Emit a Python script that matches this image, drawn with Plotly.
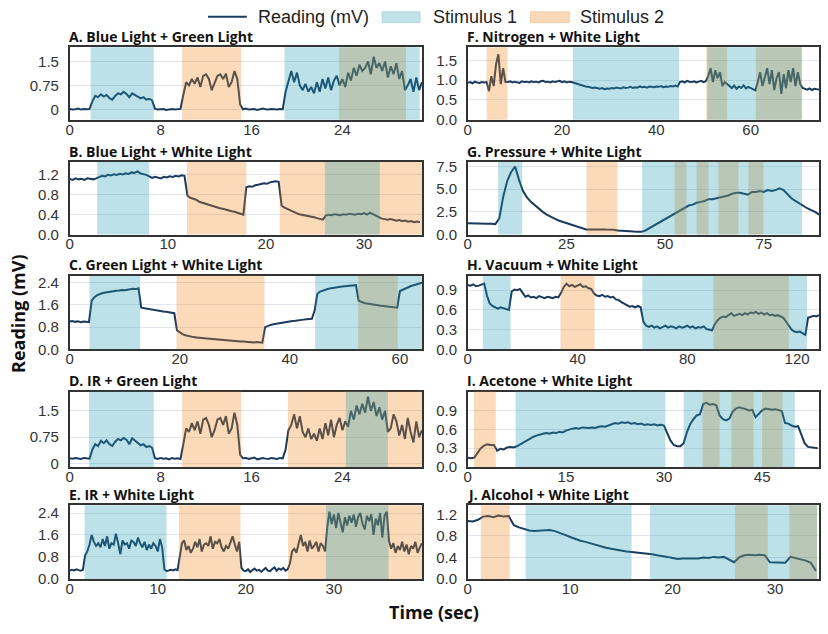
import numpy as np
import plotly.graph_objects as go

# ---------------------------------------------------------------- data
titles = ["A. Blue Light + Green Light", "B. Blue Light + White Light",
          "C. Green Light + White Light", "D. IR + Green Light",
          "E. IR + White Light", "F. Nitrogen + White Light",
          "G. Pressure + White Light", "H. Vacuum + White Light",
          "I. Acetone + White Light", "J. Alcohol + White Light"]

# A. Blue Light + Green Light  (sample step 0.25 s)
a_dt = 0.25
a_reading = [0.01, -0.01, 0.0, 0.02, -0.01, 0.01, 0.0, 0.01,
             0.25, 0.42, 0.38, 0.47, 0.40, 0.45, 0.35, 0.30, 0.42, 0.50, 0.47, 0.55, 0.48, 0.38, 0.50, 0.45,
             0.40, 0.34, 0.38, 0.30, 0.33, 0.28,
             0.02, -0.01, 0.0, 0.01, -0.02, 0.0, 0.01, -0.01, 0.0, 0.01,
             0.45, 0.85, 0.75, 0.95, 0.80, 1.0, 0.70, 1.05, 1.1, 0.95, 0.60, 0.80, 1.05, 1.1, 0.95, 1.12,
             0.70, 0.85, 1.2, 0.95, 0.15,
             0.0, 0.02, -0.01, 0.0, 0.01, -0.02, 0.0, 0.02, 0.0, -0.01, 0.01, 0.0, -0.01, 0.01, 0.0,
             0.55, 0.9, 1.2, 0.85, 1.15, 0.75, 0.6, 0.8, 0.55, 0.7, 0.5, 0.85, 0.55, 0.95, 0.65, 1.0,
             0.6, 0.9, 1.05,
             0.75, 0.95, 0.7, 1.15, 0.9, 1.3, 1.05, 1.4, 1.2, 1.3, 1.5, 1.1, 1.65, 1.3, 1.45, 1.2, 1.5,
             1.0, 1.35, 1.1, 1.45, 0.95, 1.2, 0.6,
             0.75, 0.95, 0.55, 1.0, 0.6, 0.85]
a_stim1 = [[1.85, 7.4], [18.9, 30.8]]
a_stim2 = [[9.9, 15.1], [23.7, 29.6]]
a_xticks, a_xlabels = [0, 8, 16, 24], ["0", "8", "16", "24"]
a_yticks, a_ylabels = [0, 0.75, 1.5], ["0", "0.75", "1.5"]

# B. Blue Light + White Light  (step 0.3 s)
b_dt = 0.3
b_reading = [1.12, 1.10, 1.13, 1.11, 1.12, 1.10, 1.13, 1.12, 1.11, 1.13,
             1.16, 1.18, 1.17, 1.20, 1.19, 1.21, 1.20, 1.22, 1.21, 1.23, 1.22, 1.25, 1.24, 1.27, 1.23,
             1.22, 1.20,
             1.17, 1.14, 1.16, 1.15, 1.13, 1.16, 1.15, 1.17, 1.16, 1.18, 1.17, 1.19, 1.18,
             0.78, 0.74, 0.72, 0.70, 0.66, 0.64, 0.62, 0.61, 0.58, 0.56, 0.55, 0.53, 0.52, 0.50, 0.49,
             0.47, 0.46, 0.44, 0.42, 0.40,
             0.95, 0.97, 0.96, 0.99, 1.00, 1.02, 1.03, 1.02, 1.05, 1.06, 1.07, 1.06,
             0.58, 0.54, 0.51, 0.48, 0.46, 0.43, 0.41, 0.40, 0.38, 0.37, 0.36, 0.35, 0.33, 0.32, 0.30,
             0.38, 0.40, 0.39, 0.41, 0.40, 0.39, 0.41, 0.40, 0.42, 0.41, 0.40, 0.42, 0.41, 0.43, 0.40,
             0.44, 0.41, 0.39, 0.36,
             0.32, 0.31, 0.30, 0.31, 0.29, 0.28, 0.29, 0.27, 0.28, 0.26, 0.27, 0.25, 0.26, 0.25]
b_stim1 = [[2.8, 8.1], [26.0, 31.6]]
b_stim2 = [[11.95, 18.0], [21.4, 35.9]]
b_xticks, b_xlabels = [0, 10, 20, 30], ["0", "10", "20", "30"]
b_yticks, b_ylabels = [0, 0.4, 0.8, 1.2], ["0.0", "0.4", "0.8", "1.2"]

# C. Green Light + White Light  (step 0.5 s)
c_dt = 0.5
c_reading = [1.00, 1.02, 0.99, 1.01, 0.98, 1.00, 0.99, 0.98,
             1.75, 1.88, 1.95, 2.00, 2.03, 2.05, 2.07, 2.08, 2.10, 2.11, 2.12, 2.14, 2.13, 2.15, 2.16,
             2.18, 2.17, 2.20,
             1.50, 1.48, 1.46, 1.45, 1.43, 1.42, 1.40, 1.38, 1.36, 1.35, 1.33, 1.32, 1.30,
             0.68, 0.60, 0.55, 0.51, 0.48, 0.46, 0.44, 0.43, 0.42, 0.40, 0.39, 0.38, 0.37, 0.36, 0.35,
             0.34, 0.33, 0.33, 0.32, 0.31, 0.30, 0.30, 0.29, 0.28, 0.28, 0.27, 0.27, 0.26, 0.25, 0.26,
             0.25, 0.24,
             0.80, 0.85, 0.88, 0.90, 0.92, 0.93, 0.95, 0.97, 0.98, 1.00, 1.02, 1.03, 1.05, 1.06, 1.07,
             1.08, 1.10, 1.10,
             1.40, 2.00, 2.08, 2.12, 2.15, 2.18, 2.20, 2.22, 2.23, 2.25, 2.26, 2.27, 2.28, 2.29, 2.30,
             2.31,
             1.75, 1.70, 1.67, 1.65, 1.63, 1.62, 1.60, 1.58, 1.57, 1.56, 1.55, 1.53, 1.52, 1.50,
             1.50, 2.10, 2.15, 2.20, 2.24, 2.28, 2.31, 2.34, 2.37, 2.40]
c_stim1 = [[3.6, 12.8], [44.6, 64.0]]
c_stim2 = [[19.4, 35.4], [52.4, 59.6]]
c_xticks, c_xlabels = [0, 20, 40, 60], ["0", "20", "40", "60"]
c_yticks, c_ylabels = [0, 0.8, 1.6, 2.4], ["0.0", "0.8", "1.6", "2.4"]

# D. IR + Green Light  (step 0.25 s)
d_dt = 0.25
d_reading = [0.15, 0.14, 0.16, 0.15, 0.13, 0.16, 0.15, 0.14,
             0.40, 0.55, 0.50, 0.65, 0.58, 0.66, 0.55, 0.50, 0.62, 0.70, 0.66, 0.73, 0.68, 0.55, 0.72,
             0.65, 0.60, 0.52, 0.55, 0.47, 0.50, 0.45,
             0.15, 0.13, 0.16, 0.14, 0.15, 0.12, 0.16, 0.14, 0.15, 0.13,
             0.55, 1.0, 0.9, 1.15, 0.95, 1.2, 0.85, 1.25, 1.3, 1.1, 0.75, 0.95, 1.25, 1.3, 1.1, 1.35,
             0.85, 1.0, 1.45, 1.1, 0.25,
             0.15, 0.16, 0.13, 0.15, 0.17, 0.12, 0.15, 0.16, 0.14, 0.13, 0.16, 0.15, 0.13, 0.16, 0.15,
             0.40, 0.95, 1.1, 1.4, 1.0, 1.35, 0.9, 0.75, 1.0, 0.7, 0.85, 0.65, 1.0, 0.7, 1.15, 0.8,
             1.25, 0.75, 1.1, 1.3, 0.95,
             1.2, 1.05, 1.5, 1.25, 1.65, 1.4, 1.7, 1.45, 1.9, 1.5, 1.75, 1.35, 1.6, 1.25, 1.5, 0.9,
             1.0, 1.4, 1.2, 0.8, 1.1, 0.7, 1.3, 0.9, 0.6, 1.2, 0.75, 0.95]
d_stim1 = [[1.7, 7.4], [24.3, 28.0]]
d_stim2 = [[9.9, 15.1], [19.2, 31.0]]
d_xticks, d_xlabels = [0, 8, 16, 24], ["0", "8", "16", "24"]
d_yticks, d_ylabels = [0, 0.75, 1.5], ["0", "0.75", "1.5"]

# E. IR + White Light  (step 0.25 s)
e_dt = 0.25
e_reading = [0.30, 0.33, 0.31, 0.35, 0.32, 0.30, 0.33,
             0.85, 1.0, 1.25, 1.6, 1.35, 1.2, 1.3, 1.15, 1.45, 1.2, 1.55, 1.1, 1.3, 1.25, 1.65, 1.3,
             0.9, 1.4, 1.25, 1.3, 1.1, 1.4, 1.35, 1.2, 1.5, 1.3, 1.15, 1.35, 1.05, 1.25, 1.1, 1.3, 1.2,
             1.0, 1.45, 1.15,
             0.35, 0.28, 0.30, 0.33, 0.31, 0.35, 0.32,
             0.9, 1.3, 1.4, 1.05, 1.2, 0.95, 1.1, 1.35, 1.15, 1.45, 1.0, 1.25, 1.3, 1.2, 1.55, 1.1,
             1.35, 1.3, 1.45, 1.15, 1.0, 1.2, 1.1, 1.35, 1.55, 1.25, 1.0, 1.35,
             0.40, 0.30, 0.28, 0.35, 0.25, 0.32, 0.38, 0.30, 0.33, 0.26, 0.35, 0.40, 0.30, 0.28, 0.36,
             0.42, 0.30, 0.38, 0.33, 0.40, 0.30, 0.35,
             0.55, 1.0, 1.1, 0.95, 1.3, 1.6, 1.2, 1.35, 1.0, 1.4, 1.1, 1.2, 1.35, 1.0, 1.3, 1.2, 1.0,
             1.9, 2.45, 2.0, 2.35, 1.85, 2.4, 2.1, 1.7, 2.25, 1.95, 2.3, 2.05, 2.35, 1.9, 2.25, 2.4,
             2.0, 1.8, 2.3, 2.1, 2.35, 1.6, 2.2, 1.95, 2.4, 1.5, 2.3, 2.45,
             1.4, 1.1, 1.3, 0.95, 1.2, 1.05, 1.35, 1.0, 1.25, 0.9, 1.2, 1.1, 1.35, 0.95, 1.15, 1.3]
e_stim1 = [[1.7, 11.0], [29.1, 36.2]]
e_stim2 = [[12.4, 19.4], [24.8, 40.0]]
e_xticks, e_xlabels = [0, 10, 20, 30], ["0", "10", "20", "30"]
e_yticks, e_ylabels = [0, 0.8, 1.6, 2.4], ["0.0", "0.8", "1.6", "2.4"]

# F. Nitrogen + White Light  (step 0.5 s)
f_dt = 0.5
f_reading = [0.93, 0.95, 0.92, 0.96, 0.94, 0.93, 0.95, 0.94,
             0.95, 0.72, 1.1, 0.85, 1.4, 1.65, 0.9, 1.3, 0.95,
             0.95, 0.97, 0.94, 0.96, 0.95, 0.93, 0.97, 0.95, 0.96, 0.94, 0.97, 0.95, 0.96, 0.94,
             0.97, 0.98, 0.95, 0.96, 0.94, 0.97, 0.95, 0.96, 0.98, 0.95, 0.97, 0.94, 0.96, 0.95,
             0.93, 0.90, 0.88, 0.86, 0.85, 0.84, 0.83, 0.82, 0.80, 0.81, 0.79, 0.78, 0.80, 0.77, 0.79,
             0.78, 0.80, 0.79, 0.81, 0.80, 0.79, 0.82, 0.80, 0.81, 0.83, 0.80, 0.82, 0.81, 0.84, 0.82,
             0.83, 0.81, 0.84, 0.83, 0.82, 0.84, 0.83, 0.85, 0.82, 0.84, 0.83, 0.85, 0.84, 0.86, 0.84,
             0.95, 0.97, 0.94, 0.98, 0.96, 0.95, 0.97, 0.94, 0.96, 0.98, 0.95, 0.97,
             1.1, 1.3, 0.95, 1.25, 1.05, 1.2, 0.85, 0.95, 0.90,
             0.85, 0.80, 0.86, 0.78, 0.84, 0.80, 0.87, 0.79, 0.83, 0.80, 0.76, 0.74,
             0.95, 1.2, 0.85, 1.1, 1.3, 0.9, 1.25, 0.75, 1.05, 1.2, 0.65, 1.15, 0.8, 1.25, 0.95, 1.3,
             0.85, 1.2, 0.9,
             0.80, 0.78, 0.76, 0.79, 0.75, 0.78, 0.77, 0.76]
f_stim1 = [[22.3, 44.8], [50.8, 70.8]]
f_stim2 = [[4.0, 8.4], [50.6, 55.0], [61.1, 70.9]]
f_xticks, f_xlabels = [0, 20, 40, 60], ["0", "20", "40", "60"]
f_yticks, f_ylabels = [0, 0.5, 1.0, 1.5], ["0.0", "0.5", "1.0", "1.5"]

# G. Pressure + White Light  (step 1 s)
g_dt = 1.0
g_reading = [1.25, 1.22, 1.24, 1.20, 1.21, 1.18, 1.19, 1.15,
             1.8, 4.2, 5.9, 6.9, 7.5, 6.0, 4.8, 4.1, 3.6, 3.2, 2.8, 2.5, 2.2, 1.95, 1.75, 1.55, 1.4,
             1.25, 1.1, 0.95, 0.8, 0.65, 0.55,
             0.55, 0.58, 0.56, 0.57, 0.55, 0.56, 0.54,
             0.45, 0.40, 0.38, 0.35, 0.33, 0.32, 0.30,
             0.45, 0.7, 0.95, 1.2, 1.5, 1.75, 2.0, 2.2, 2.5, 2.7, 3.0, 3.2, 3.3, 3.5, 3.6, 3.7, 3.9,
             3.9, 4.0, 4.1, 4.2, 4.3, 4.5, 4.6, 4.6, 4.5, 4.4, 4.7, 4.7, 4.8, 4.7, 4.9, 4.8, 4.9, 5.1,
             4.9, 4.4, 4.0, 3.7, 3.4, 3.1, 2.9, 2.7, 2.5, 2.2]
g_stim1 = [[7.7, 13.8], [44.2, 84.7]]
g_stim2 = [[30.1, 37.9], [52.4, 55.4], [58.0, 61.0], [63.5, 68.6], [71.1, 74.9]]
g_xticks, g_xlabels = [0, 25, 50, 75], ["0", "25", "50", "75"]
g_yticks, g_ylabels = [0, 2.5, 5.0, 7.5], ["0.0", "2.5", "5.0", "7.5"]

# H. Vacuum + White Light  (step 1 s)
h_dt = 1.0
h_reading = [0.98, 0.97, 0.99, 0.96, 0.97, 0.99,
             1.0, 0.82, 0.70, 0.66, 0.64, 0.62, 0.64, 0.63, 0.62, 0.60,
             0.88, 0.91, 0.90, 0.92, 0.86, 0.80, 0.82, 0.79, 0.80, 0.78, 0.81, 0.79, 0.78, 0.80,
             0.79, 0.78, 0.80, 0.79,
             0.86, 0.95, 1.0, 0.96, 0.98, 0.95, 0.97, 0.99, 0.95, 0.96, 0.93, 0.92, 0.85,
             0.82, 0.81, 0.83, 0.80, 0.81, 0.79, 0.80, 0.76, 0.75, 0.72, 0.70, 0.67, 0.65, 0.66, 0.64,
             0.66, 0.64,
             0.42, 0.36, 0.34, 0.36, 0.33, 0.35, 0.32, 0.34, 0.36, 0.33, 0.35, 0.34, 0.32, 0.35, 0.33,
             0.34, 0.36, 0.33, 0.35, 0.32, 0.34, 0.33, 0.35, 0.31, 0.30, 0.29,
             0.38, 0.44, 0.48, 0.50, 0.49, 0.52, 0.55, 0.51, 0.53, 0.54, 0.52, 0.55, 0.53, 0.56, 0.55,
             0.57, 0.54, 0.56, 0.53, 0.55, 0.52, 0.53, 0.51, 0.52, 0.50, 0.48,
             0.42, 0.35, 0.30, 0.27, 0.26, 0.27, 0.25, 0.22,
             0.48, 0.50, 0.51, 0.50, 0.52]
h_stim1 = [[5.5, 15.6], [63.6, 123.6]]
h_stim2 = [[33.8, 46.2], [89.5, 117.0]]
h_xticks, h_xlabels = [0, 40, 80, 120], ["0", "40", "80", "120"]
h_yticks, h_ylabels = [0, 0.3, 0.6, 0.9], ["0.0", "0.3", "0.6", "0.9"]

# I. Acetone + White Light  (step 0.5 s)
i_dt = 0.5
i_reading = [0.15, 0.14,
             0.15, 0.22, 0.30, 0.34, 0.36, 0.35, 0.35,
             0.26, 0.29, 0.28, 0.31, 0.32, 0.31,
             0.33, 0.36, 0.40, 0.43, 0.46, 0.48, 0.50, 0.52, 0.53, 0.54, 0.53, 0.55, 0.54, 0.56, 0.55,
             0.58, 0.60, 0.61, 0.62, 0.61, 0.63, 0.62, 0.62, 0.63, 0.62, 0.64, 0.65, 0.64, 0.66, 0.68,
             0.70, 0.69, 0.71, 0.70, 0.71, 0.69, 0.70, 0.68, 0.69, 0.67, 0.68, 0.67, 0.68, 0.66, 0.67,
             0.66,
             0.55, 0.42, 0.35, 0.33, 0.33,
             0.38, 0.55, 0.68, 0.76, 0.82, 0.84,
             1.00, 1.02, 0.99, 1.00, 0.98,
             0.82, 0.76, 0.74, 0.77,
             0.88, 0.93, 0.95, 0.94, 0.92, 0.90, 0.91,
             0.79, 0.85,
             0.90, 0.93, 0.92, 0.91, 0.92, 0.90, 0.89,
             0.70, 0.69, 0.66, 0.64, 0.65, 0.50, 0.38, 0.32, 0.31, 0.30, 0.30]
i_stim1 = [[7.3, 30.2], [33.0, 50.0]]
i_stim2 = [[0.95, 4.3], [35.9, 38.5], [40.3, 43.7], [45.0, 48.1]]
i_xticks, i_xlabels = [0, 15, 30, 45], ["0", "15", "30", "45"]
i_yticks, i_ylabels = [0, 0.3, 0.6, 0.9], ["0.0", "0.3", "0.6", "0.9"]

# J. Alcohol + White Light  (step 0.5 s)
j_dt = 0.5
j_reading = [1.08, 1.07, 1.10,
             1.16, 1.17, 1.15, 1.18, 1.16, 1.17,
             1.00, 0.96, 0.93, 0.90, 0.89, 0.90, 0.90, 0.91, 0.89, 0.86, 0.82, 0.78, 0.74, 0.71, 0.69,
             0.66, 0.63, 0.61, 0.58, 0.56, 0.54, 0.52, 0.51, 0.50, 0.49, 0.49, 0.48, 0.46, 0.44, 0.43,
             0.41, 0.39, 0.37, 0.38, 0.38, 0.39, 0.38, 0.40, 0.39, 0.41, 0.40, 0.41, 0.36, 0.31, 0.40,
             0.44, 0.45, 0.44, 0.45, 0.44, 0.31, 0.31, 0.30, 0.30, 0.41, 0.39, 0.36, 0.34, 0.30, 0.15]
j_stim1 = [[5.65, 16.0], [17.8, 34.1]]
j_stim2 = [[1.27, 4.1], [26.1, 29.3], [31.4, 34.1]]
j_xticks, j_xlabels = [0, 10, 20, 30], ["0", "10", "20", "30"]
j_yticks, j_ylabels = [0, 0.4, 0.8, 1.2], ["0.0", "0.4", "0.8", "1.2"]

panels = [
    (a_dt, a_reading, a_stim1, a_stim2, a_xticks, a_xlabels, a_yticks, a_ylabels),
    (b_dt, b_reading, b_stim1, b_stim2, b_xticks, b_xlabels, b_yticks, b_ylabels),
    (c_dt, c_reading, c_stim1, c_stim2, c_xticks, c_xlabels, c_yticks, c_ylabels),
    (d_dt, d_reading, d_stim1, d_stim2, d_xticks, d_xlabels, d_yticks, d_ylabels),
    (e_dt, e_reading, e_stim1, e_stim2, e_xticks, e_xlabels, e_yticks, e_ylabels),
    (f_dt, f_reading, f_stim1, f_stim2, f_xticks, f_xlabels, f_yticks, f_ylabels),
    (g_dt, g_reading, g_stim1, g_stim2, g_xticks, g_xlabels, g_yticks, g_ylabels),
    (h_dt, h_reading, h_stim1, h_stim2, h_xticks, h_xlabels, h_yticks, h_ylabels),
    (i_dt, i_reading, i_stim1, i_stim2, i_xticks, i_xlabels, i_yticks, i_ylabels),
    (j_dt, j_reading, j_stim1, j_stim2, j_xticks, j_xlabels, j_yticks, j_ylabels),
]

# ---------------------------------------------------------------- layout / style
W, H = 828, 634
x_ranges = [[0, 31], [0, 35.9], [0, 64], [0, 31], [0, 40],
            [0, 74.5], [0, 89], [0, 128], [0, 53.7], [0, 34.3]]
y_ranges = [[-0.33, 1.95], [0, 1.46], [0, 2.65], [-0.1, 2.05], [0, 2.68],
            [0, 1.83], [0, 8.0], [0, 1.12], [0, 1.2], [0, 1.37]]
col_px = [(66, 420), (466, 819)]
row_px = [(44, 118), (161, 235), (277, 352), (395, 472), (511, 586)]

NAVY = "#1b3a5c"
BLUE_FILL = "rgba(38,155,178,0.30)"
ORANGE_FILL = "rgba(238,132,22,0.30)"
TICK_FONT = dict(family="Liberation Sans, Arial, sans-serif", size=15, color="#333333")
TITLE_FONT = dict(family="Open Sans, sans-serif", size=14, color="#111111")


def px_x(p):
    return p / W


def px_y(p):
    return 1 - p / H


fig = go.Figure()
layout = {}
shapes = []
annotations = []

for k, (dt, vals, s1, s2, xt, xl, yt, yl) in enumerate(panels):
    n = k + 1
    col = 0 if k < 5 else 1
    row = k % 5
    xs = "" if n == 1 else str(n)
    t = np.arange(len(vals)) * dt
    fig.add_trace(go.Scatter(x=t, y=vals, mode="lines", line=dict(color=NAVY, width=2),
                             xaxis="x" + xs, yaxis="y" + xs, showlegend=False,
                             name="Reading (mV)"))
    (cx0, cx1), (ry0, ry1) = col_px[col], row_px[row]
    layout["xaxis" + xs] = dict(domain=[px_x(cx0), px_x(cx1)], anchor="y" + xs,
                                range=x_ranges[k], tickvals=xt, ticktext=xl,
                                showgrid=False, zeroline=False, showline=True, mirror=True,
                                linecolor="#333333", linewidth=1.5, ticks="",
                                ticklabelstandoff=-5, tickfont=TICK_FONT)
    layout["yaxis" + xs] = dict(domain=[px_y(ry1), px_y(ry0)], anchor="x" + xs,
                                range=y_ranges[k], tickvals=yt, ticktext=yl,
                                showgrid=True, gridcolor="#e3e6ee", gridwidth=1,
                                zeroline=False, showline=True, mirror=True,
                                linecolor="#333333", linewidth=1.5, ticks="outside",
                                ticklen=6, tickcolor="rgba(0,0,0,0)", tickfont=TICK_FONT)
    for (x0, x1) in s2:
        shapes.append(dict(type="rect", xref="x" + xs, yref="y" + xs + " domain",
                           x0=x0, x1=x1, y0=0, y1=1, fillcolor=ORANGE_FILL,
                           line=dict(width=0), layer="above"))
    for (x0, x1) in s1:
        shapes.append(dict(type="rect", xref="x" + xs, yref="y" + xs + " domain",
                           x0=x0, x1=x1, y0=0, y1=1, fillcolor=BLUE_FILL,
                           line=dict(width=0), layer="above"))
    annotations.append(dict(text="<b>" + titles[k] + "</b>", xref="paper", yref="paper",
                            x=px_x(cx0 - 3), y=px_y(ry0 - 11), xanchor="left", yanchor="middle",
                            showarrow=False, font=TITLE_FONT))

# legend (drawn as layout decoration)
shapes.append(dict(type="line", xref="paper", yref="paper", x0=px_x(205), x1=px_x(244),
                   y0=px_y(13), y1=px_y(13), line=dict(color=NAVY, width=2)))
shapes.append(dict(type="rect", xref="paper", yref="paper", x0=px_x(380), x1=px_x(418),
                   y0=px_y(19), y1=px_y(8), fillcolor="#bfe2e9", line=dict(color="#aed6df", width=1)))
shapes.append(dict(type="rect", xref="paper", yref="paper", x0=px_x(529), x1=px_x(568),
                   y0=px_y(19), y1=px_y(8), fillcolor="#fad9b8", line=dict(color="#f5cda6", width=1)))
LEG_FONT = dict(family="Liberation Sans, Arial, sans-serif", size=18, color="#222222")
for txt, xp in [("Reading (mV)", 253), ("Stimulus 1", 429), ("Stimulus 2", 577)]:
    annotations.append(dict(text=txt, xref="paper", yref="paper", x=px_x(xp), y=px_y(13),
                            xanchor="left", yanchor="middle", showarrow=False, font=LEG_FONT))

# axis titles
AX_FONT = dict(family="Open Sans, sans-serif", size=18, color="#111111")
annotations.append(dict(text="<b>Time (sec)</b>", xref="paper", yref="paper", x=px_x(432),
                        y=px_y(620), xanchor="center", yanchor="middle", showarrow=False,
                        font=AX_FONT))
annotations.append(dict(text="<b>Reading (mV)</b>", xref="paper", yref="paper", x=px_x(14),
                        y=px_y(315), xanchor="center", yanchor="middle", showarrow=False,
                        textangle=-90, font=AX_FONT))

fig.update_layout(width=W, height=H, margin=dict(l=0, r=0, t=0, b=0),
                  plot_bgcolor="white", paper_bgcolor="white", showlegend=False,
                  shapes=shapes, annotations=annotations, **layout)

fig.write_html("out.html")
